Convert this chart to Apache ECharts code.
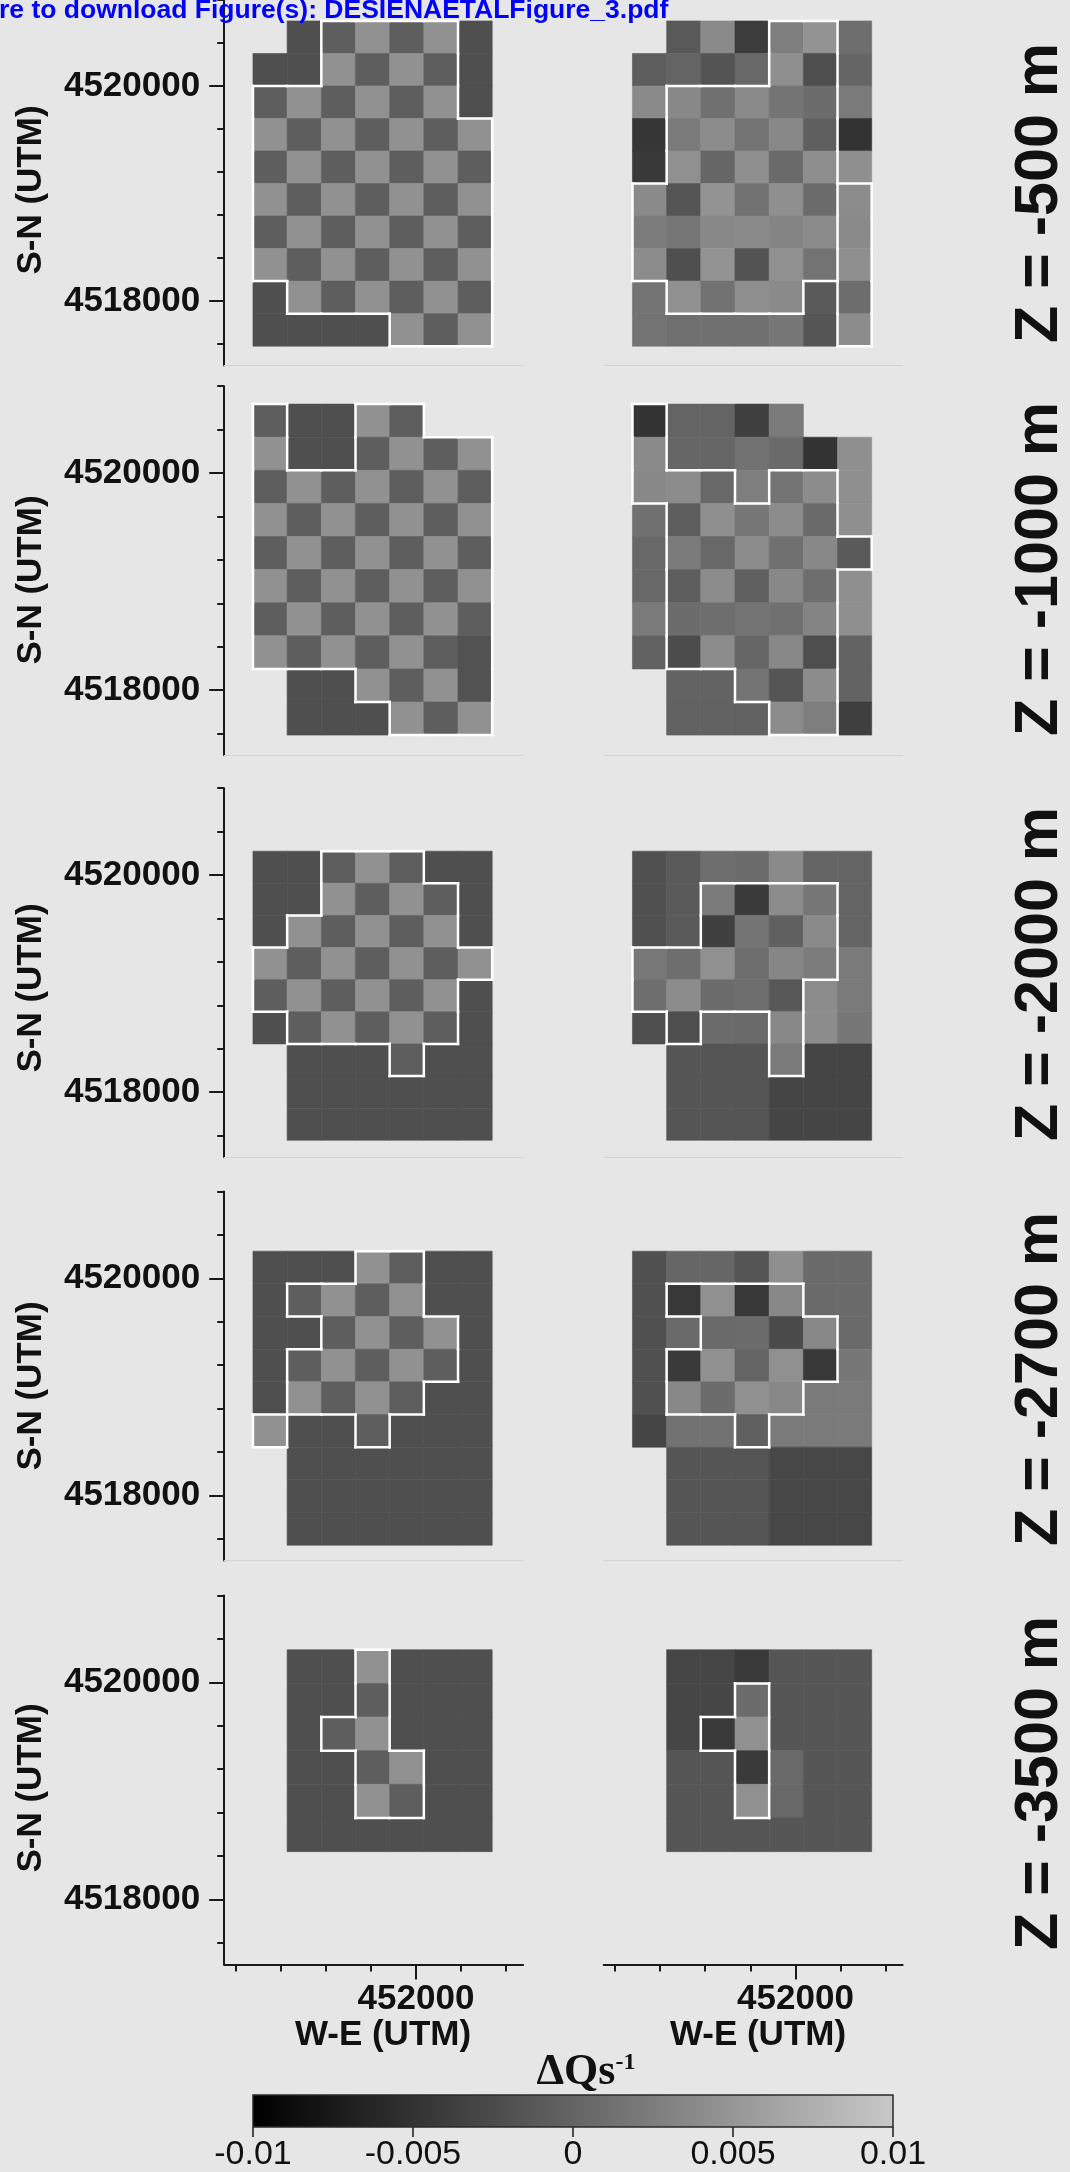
<!DOCTYPE html>
<html>
<head>
<meta charset="utf-8">
<script src="https://cdn.jsdelivr.net/npm/echarts@6/dist/echarts.min.js"></script>
<style>
html,body{margin:0;padding:0;background:#e6e6e6;}
#c{width:1070px;height:2172px;}
</style>
</head>
<body>
<div id="c"></div>
<script>
// ---------------- data ----------------
const HEADER = 're to download Figure(s): DESIENAETALFigure_3.pdf';
const DEPTHS = ['Z = -500 m', 'Z = -1000 m', 'Z = -2000 m', 'Z = -2700 m', 'Z = -3500 m'];
const Y_NAME = 'S-N (UTM)';
const X_NAME = 'W-E (UTM)';
const Y_TICKS = [4517600, 4518000, 4518400, 4518800, 4519200, 4519600, 4520000, 4520400, 4520800];
const Y_LABELS = [4518000, 4520000];
const X_TICKS = [450400, 450800, 451200, 451600, 452000, 452400, 452800];
const X_LABELS = [452000];
const X_RANGE = [450300, 452950];
const Y_RANGE = [4517400, 4520800];
const CBAR_TICKS = [-0.01, -0.005, 0, 0.005, 0.01];
const CMAP = ['#000000', '#c8c8c8'];

// model cells: west edge + width (m); per depth: north edge + height (m)
const CELL_X0 = 450555, CELL_DX = 303;
const LAYER_TOP = [4520605, 4520635, 4520220, 4520250, 4520300];
const LAYER_DY = [302.5, 305, 296, 301, 310];

// checkerboard-test levels (ΔQs^-1)
const L = 0.0045, D = -0.0006, B = -0.0021, B2 = -0.0018;

// rows listed north -> south, columns west -> east
const VAL_500_L = [
  [null, B, D, L, D, L, B],
  [B, B, L, D, L, D, B],
  [D, L, D, L, D, L, B],
  [L, D, L, D, L, D, L],
  [D, L, D, L, D, L, D],
  [L, D, L, D, L, D, L],
  [D, L, D, L, D, L, D],
  [L, D, L, D, L, D, L],
  [B, L, D, L, D, L, D],
  [B, B, B, B, L, D, L]
];
const VAL_500_R = [
  [null, -0.0011, 0.0038, -0.0040, 0.0026, 0.0047, 0.0010],
  [-0.0007, 0.0000, -0.0016, 0.0004, 0.0043, -0.0022, 0.0001],
  [0.0038, 0.0036, 0.0012, 0.0038, 0.0016, 0.0008, 0.0022],
  [-0.0046, 0.0022, 0.0040, 0.0015, 0.0036, -0.0005, -0.0049],
  [-0.0043, 0.0044, 0.0002, 0.0043, 0.0006, 0.0042, 0.0043],
  [0.0038, -0.0015, 0.0047, 0.0014, 0.0043, 0.0008, 0.0040],
  [0.0024, 0.0018, 0.0036, 0.0038, 0.0032, 0.0039, 0.0038],
  [0.0040, -0.0021, 0.0047, -0.0017, 0.0044, 0.0015, 0.0043],
  [0.0015, 0.0044, 0.0014, 0.0043, 0.0038, -0.0010, 0.0009],
  [0.0015, 0.0011, 0.0012, 0.0012, 0.0019, -0.0015, 0.0040]
];
const VAL_1000_L = [
  [D, B, B, L, D, null, null],
  [L, B, B, D, L, D, L],
  [D, L, D, L, D, L, D],
  [L, D, L, D, L, D, L],
  [D, L, D, L, D, L, D],
  [L, D, L, D, L, D, L],
  [D, L, D, L, D, L, D],
  [L, D, L, D, L, D, B2],
  [null, B, B, L, D, L, B2],
  [null, B, B, B, L, D, L]
];
const VAL_1000_R = [
  [-0.0049, 0.0000, 0.0000, -0.0036, 0.0022, null, null],
  [0.0038, 0.0002, 0.0002, 0.0014, 0.0006, -0.0049, 0.0043],
  [0.0036, 0.0040, 0.0004, 0.0026, 0.0016, 0.0040, 0.0043],
  [0.0012, -0.0006, 0.0043, 0.0019, 0.0040, 0.0006, 0.0043],
  [0.0004, 0.0022, 0.0004, 0.0040, 0.0012, 0.0036, -0.0010],
  [0.0004, -0.0006, 0.0040, -0.0004, 0.0036, 0.0010, 0.0043],
  [0.0022, 0.0008, 0.0010, 0.0016, 0.0012, 0.0032, 0.0043],
  [-0.0002, -0.0024, 0.0040, 0.0002, 0.0036, -0.0022, -0.0001],
  [null, -0.0001, -0.0001, 0.0016, -0.0015, 0.0040, -0.0001],
  [null, -0.0002, -0.0002, -0.0002, 0.0040, 0.0026, -0.0037]
];
const VAL_2000_L = [
  [B, B, D, L, D, B, B],
  [B, B, L, D, L, D, B],
  [B, L, D, L, D, L, B],
  [L, D, L, D, L, D, L],
  [D, L, D, L, D, L, B],
  [B, D, L, D, L, D, B],
  [null, B, B, B, D, B, B],
  [null, B, B, B, B, B, B],
  [null, B, B, B, B, B, B]
];
const VAL_2000_R = [
  [-0.0020, -0.0010, 0.0010, 0.0008, 0.0038, 0.0000, 0.0000],
  [-0.0020, -0.0010, 0.0022, -0.0042, 0.0040, 0.0019, 0.0000],
  [-0.0020, -0.0010, -0.0036, 0.0016, -0.0004, 0.0038, 0.0000],
  [0.0020, 0.0010, 0.0044, 0.0010, 0.0034, 0.0024, 0.0022],
  [0.0010, 0.0040, 0.0008, 0.0010, -0.0012, 0.0040, 0.0022],
  [-0.0022, -0.0022, 0.0008, 0.0006, 0.0036, 0.0040, 0.0019],
  [null, -0.0015, -0.0015, -0.0015, 0.0022, -0.0031, -0.0031],
  [null, -0.0015, -0.0015, -0.0015, -0.0031, -0.0031, -0.0031],
  [null, -0.0015, -0.0015, -0.0015, -0.0031, -0.0031, -0.0031]
];
const VAL_2700_L = [
  [B, B, B, L, D, B, B],
  [B, D, L, D, L, B, B],
  [B, B, D, L, D, L, B],
  [B, D, L, D, L, D, B],
  [B, L, D, L, D, B, B],
  [L, B, B, D, B, B, B],
  [null, B, B, B, B, B, B],
  [null, B, B, B, B, B, B],
  [null, B, B, B, B, B, B]
];
const VAL_2700_R = [
  [-0.0020, 0.0002, 0.0002, -0.0015, 0.0043, 0.0006, 0.0006],
  [-0.0020, -0.0044, 0.0044, -0.0044, 0.0036, 0.0006, 0.0006],
  [-0.0020, 0.0006, 0.0006, 0.0008, -0.0026, 0.0036, 0.0006],
  [-0.0020, -0.0042, 0.0044, 0.0000, 0.0044, -0.0044, 0.0019],
  [-0.0020, 0.0036, 0.0008, 0.0044, 0.0036, 0.0022, 0.0022],
  [-0.0031, 0.0014, 0.0014, -0.0004, 0.0022, 0.0022, 0.0022],
  [null, -0.0015, -0.0015, -0.0015, -0.0029, -0.0029, -0.0029],
  [null, -0.0015, -0.0015, -0.0015, -0.0029, -0.0029, -0.0029],
  [null, -0.0015, -0.0015, -0.0015, -0.0029, -0.0029, -0.0029]
];
const VAL_3500_L = [
  [null, B, B, L, B, B, B],
  [null, B, B, D, B, B, B],
  [null, B, D, L, B, B, B],
  [null, B, B, D, L, B, B],
  [null, B, B, L, D, B, B],
  [null, B, B, B, B, B, B]
];
const VAL_3500_R = [
  [null, -0.0030, -0.0030, -0.0042, -0.0014, -0.0014, -0.0014],
  [null, -0.0030, -0.0030, 0.0008, -0.0014, -0.0014, -0.0014],
  [null, -0.0030, -0.0042, 0.0044, -0.0014, -0.0014, -0.0014],
  [null, -0.0015, -0.0015, -0.0042, 0.0006, -0.0014, -0.0014],
  [null, -0.0015, -0.0015, 0.0044, 0.0004, -0.0014, -0.0014],
  [null, -0.0015, -0.0015, -0.0015, -0.0014, -0.0014, -0.0014]
];

// resolved-area labels (white outlines drawn between different labels)
const MASK_500_L = ['0011110','0011110','1111110','1111111','1111111','1111111','1111111','1111111','0111111','0000111'];
const MASK_500_R = ['0000110','0000110','0111110','0111110','0111110','1111112','1111112','1111112','0111102','0000002'];
const MASK_1000_L = ['1001100','1001111','1111111','1111111','1111111','1111111','1111111','1111111','0001111','0000111'];
const MASK_1000_R = ['1000000','1000000','1110110','0111110','0111111','0111110','0111110','0111110','0001110','0000110'];
const MASK_2000_L = ['0011100','0011110','0111110','1111111','1111110','0111110','0000100','0000000','0000000'];
const MASK_2000_R = ['0000000','0011110','0011110','1111110','1111100','0100100','0000100','0000000','0000000'];
const MASK_2700_L = ['0001100','0111100','0011110','0111110','0111100','1001000','0000000','0000000','0000000'];
const MASK_2700_R = ['0000000','0111100','0011110','0111110','0111100','0001000','0000000','0000000','0000000'];
const MASK_3500_L = ['0001000','0001000','0011000','0001100','0001100','0000000'];
const MASK_3500_R = ['0000000','0001000','0011000','0001000','0001000','0000000'];

const PANELS = [
  [VAL_500_L, MASK_500_L], [VAL_500_R, MASK_500_R],
  [VAL_1000_L, MASK_1000_L], [VAL_1000_R, MASK_1000_R],
  [VAL_2000_L, MASK_2000_L], [VAL_2000_R, MASK_2000_R],
  [VAL_2700_L, MASK_2700_L], [VAL_2700_R, MASK_2700_R],
  [VAL_3500_L, MASK_3500_L], [VAL_3500_R, MASK_3500_R]
];

// ---------------- layout ----------------
const FONT = '"Liberation Sans", Arial, Helvetica, sans-serif';
const GRID_LEFTS = [224.2, 603.7];
const GRID_W = 298.9;
const GRID_TOPS = [-3.5, 386.2, 788.2, 1191.5, 1595.5];
const GRID_H = 369;
const Z_POS = [[1040, 193], [1040, 569], [1040, 974], [1040, 1379], [1040, 1783]];
const SN_POS = [[31, 190], [31, 580], [31, 988], [31, 1386], [31, 1788]];
const WE_POS = [[383, 2035], [758, 2035]];
const INK = '#111111';
const AXC = '#1a1a1a';

function cellsOf(vals, top, dy) {
  const out = [];
  vals.forEach((row, r) => row.forEach((v, c) => {
    if (v === null) return;
    const x0 = CELL_X0 + c * CELL_DX;
    const yTop = top - r * dy;
    out.push([x0, x0 + CELL_DX, yTop - dy, yTop, v]);
  }));
  return out;
}
function edgesOf(mask, top, dy) {
  const R = mask.length, C = mask[0].length, out = [];
  const lab = (r, c) => (r < 0 || c < 0 || r >= R || c >= C) ? 0 : Number(mask[r][c]);
  for (let r = 0; r < R; r++) for (let c = 0; c <= C; c++) {
    const a = lab(r, c - 1), b = lab(r, c);
    if (a !== b && (a || b)) {
      const x = CELL_X0 + c * CELL_DX;
      out.push([x, top - r * dy, x, top - (r + 1) * dy]);
    }
  }
  for (let r = 0; r <= R; r++) for (let c = 0; c < C; c++) {
    const a = lab(r - 1, c), b = lab(r, c);
    if (a !== b && (a || b)) {
      const y = top - r * dy;
      out.push([CELL_X0 + c * CELL_DX, y, CELL_X0 + (c + 1) * CELL_DX, y]);
    }
  }
  return out;
}
function renderCell(params, api) {
  const a = api.coord([api.value(0), api.value(3)]);
  const b = api.coord([api.value(1), api.value(2)]);
  const color = api.visual('color');
  return { type: 'rect', shape: { x: a[0], y: a[1], width: b[0] - a[0], height: b[1] - a[1] },
           style: { fill: color, stroke: color, lineWidth: 0.6 } };
}
function renderEdge(params, api) {
  const a = api.coord([api.value(0), api.value(1)]);
  const b = api.coord([api.value(2), api.value(3)]);
  return { type: 'line', shape: { x1: a[0], y1: a[1], x2: b[0], y2: b[1] },
           style: { stroke: '#ffffff', lineWidth: 2.5, lineCap: 'square' } };
}

const grids = [], xAxes = [], yAxes = [], series = [], cellIdx = [];
PANELS.forEach(([vals, mask], p) => {
  const row = Math.floor(p / 2), col = p % 2, isBottom = row === 4, isLeft = col === 0;
  grids.push({ left: GRID_LEFTS[col], top: GRID_TOPS[row], width: GRID_W, height: GRID_H });
  xAxes.push({
    gridIndex: p, type: 'value', min: X_RANGE[0], max: X_RANGE[1], position: 'bottom',
    axisLine: { show: true, onZero: false, lineStyle: isBottom ? { color: AXC, width: 2 } : { color: '#d3d3d3', width: 1 } },
    axisTick: { show: isBottom, customValues: X_TICKS, length: 7, lineStyle: { color: AXC, width: 2 } },
    axisLabel: { show: false }, splitLine: { show: false }
  });
  xAxes.push({
    gridIndex: p, type: 'value', min: X_RANGE[0], max: X_RANGE[1], position: 'bottom',
    axisLine: { show: false, onZero: false },
    axisTick: { show: isBottom, customValues: X_LABELS, length: 15, lineStyle: { color: AXC, width: 2 } },
    axisLabel: { show: isBottom, customValues: X_LABELS, margin: 17, formatter: v => String(v),
                 fontSize: 35, fontWeight: 'bold', fontFamily: FONT, color: INK },
    splitLine: { show: false }
  });
  yAxes.push({
    gridIndex: p, type: 'value', min: Y_RANGE[0], max: Y_RANGE[1], position: 'left', show: isLeft,
    axisLine: { show: true, onZero: false, lineStyle: { color: AXC, width: 2 } },
    axisTick: { show: true, customValues: Y_TICKS, length: 7, lineStyle: { color: AXC, width: 2 } },
    axisLabel: { show: false }, splitLine: { show: false }
  });
  yAxes.push({
    gridIndex: p, type: 'value', min: Y_RANGE[0], max: Y_RANGE[1], position: 'left', show: isLeft,
    axisLine: { show: false, onZero: false },
    axisTick: { show: true, customValues: Y_LABELS, length: 15, lineStyle: { color: AXC, width: 2 } },
    axisLabel: { show: true, customValues: Y_LABELS, margin: 24, formatter: v => String(v),
                 fontSize: 35, fontWeight: 'bold', fontFamily: FONT, color: INK },
    splitLine: { show: false }
  });
  const top = LAYER_TOP[row], dy = LAYER_DY[row];
  cellIdx.push(series.length);
  series.push({ type: 'custom', xAxisIndex: 2 * p, yAxisIndex: 2 * p, silent: true, z: 2,
                renderItem: renderCell, data: cellsOf(vals, top, dy) });
  series.push({ type: 'custom', xAxisIndex: 2 * p, yAxisIndex: 2 * p, silent: true, z: 3,
                renderItem: renderEdge, data: edgesOf(mask, top, dy) });
});

// colour bar
grids.push({ left: 253, top: 2095, width: 640, height: 32 });
xAxes.push({
  gridIndex: 10, type: 'value', min: CBAR_TICKS[0], max: CBAR_TICKS[CBAR_TICKS.length - 1], position: 'bottom',
  axisLine: { show: false, onZero: false },
  axisTick: { show: true, customValues: CBAR_TICKS, length: 10, lineStyle: { color: AXC, width: 1.5 } },
  axisLabel: { show: true, customValues: CBAR_TICKS, margin: 11, formatter: v => String(v),
               fontSize: 34, fontFamily: FONT, color: INK },
  splitLine: { show: false }
});
yAxes.push({ gridIndex: 10, type: 'value', min: 0, max: 1, show: false });
series.push({
  type: 'custom', xAxisIndex: 20, yAxisIndex: 20, silent: true,
  data: [[CBAR_TICKS[0], CBAR_TICKS[CBAR_TICKS.length - 1]]],
  renderItem(params, api) {
    const a = api.coord([api.value(0), 1]);
    const b = api.coord([api.value(1), 0]);
    return { type: 'rect', shape: { x: a[0], y: a[1], width: b[0] - a[0], height: b[1] - a[1] },
      style: { fill: new echarts.graphic.LinearGradient(0, 0, 1, 0, [{ offset: 0, color: CMAP[0] }, { offset: 1, color: CMAP[1] }]),
               stroke: '#2a2a2a', lineWidth: 1.5 } };
  }
});

// text
const graphics = [];
graphics.push({ type: 'text', x: -1, y: 10.5, z: 100, silent: true,
  style: { text: HEADER, font: 'bold 26.5px ' + FONT, fill: '#0000ff', align: 'left', verticalAlign: 'middle' } });
DEPTHS.forEach((t, i) => graphics.push({ type: 'text', x: Z_POS[i][0], y: Z_POS[i][1], rotation: Math.PI / 2, z: 100, silent: true,
  style: { text: t, font: 'bold 61px ' + FONT, fill: INK, align: 'center', verticalAlign: 'middle' } }));
SN_POS.forEach(pt => graphics.push({ type: 'text', x: pt[0], y: pt[1], rotation: Math.PI / 2, z: 100, silent: true,
  style: { text: Y_NAME, font: 'bold 35px ' + FONT, fill: INK, align: 'center', verticalAlign: 'middle' } }));
WE_POS.forEach(pt => graphics.push({ type: 'text', x: pt[0], y: pt[1], z: 100, silent: true,
  style: { text: X_NAME, font: 'bold 35px ' + FONT, fill: INK, align: 'center', verticalAlign: 'middle' } }));
graphics.push({ type: 'text', x: 586, y: 2073, z: 100, silent: true,
  style: { text: '{a|ΔQs}{b|-1}', align: 'center', verticalAlign: 'middle', fill: INK,
    rich: { a: { fontSize: 44, fontWeight: 'bold', fontFamily: '"Liberation Serif", "Times New Roman", serif', fill: INK },
            b: { fontSize: 24, fontWeight: 'bold', fontFamily: '"Liberation Serif", "Times New Roman", serif', fill: INK, verticalAlign: 'top' } } } });

const chart = echarts.init(document.getElementById('c'), null, { renderer: 'canvas', width: 1070, height: 2172 });
chart.setOption({
  backgroundColor: '#e6e6e6',
  animation: false,
  textStyle: { fontFamily: FONT },
  grid: grids, xAxis: xAxes, yAxis: yAxes, series: series,
  visualMap: { type: 'continuous', show: false, min: CBAR_TICKS[0], max: CBAR_TICKS[CBAR_TICKS.length - 1],
               dimension: 4, seriesIndex: cellIdx, inRange: { color: CMAP } },
  graphic: graphics
});
</script>
</body>
</html>
